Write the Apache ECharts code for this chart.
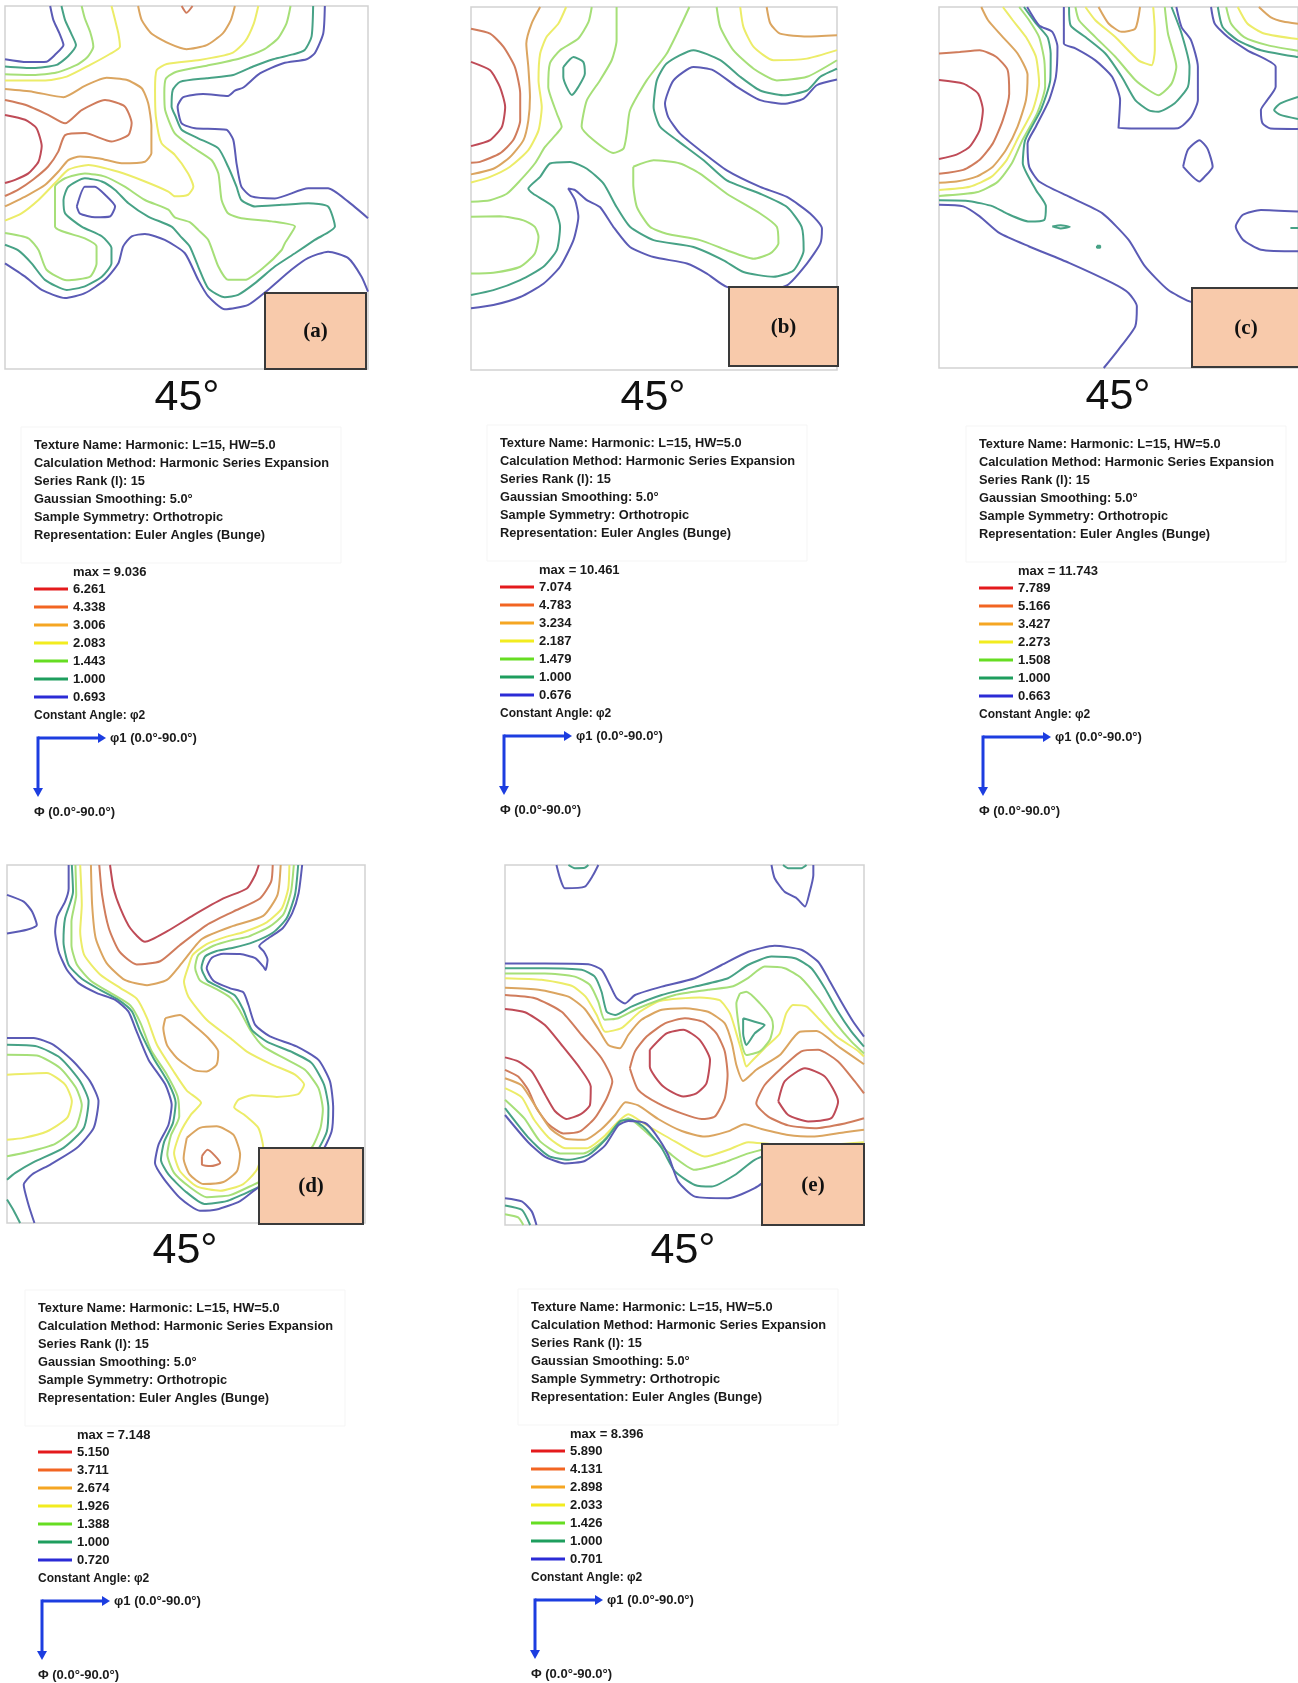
<!DOCTYPE html>
<html>
<head>
<meta charset="utf-8">
<style>
  html, body { margin: 0; padding: 0; background: #ffffff; }
  #chart { width: 1298px; height: 1683px; }
</style>
<script src="https://cdn.jsdelivr.net/npm/echarts@6/dist/echarts.min.js"></script>
</head>
<body>
<div id="chart"></div>
<script>
// ---- contour levels of the ODF sections (phi2 = 45°) ----
const levelsA = [6.261, 4.338, 3.006, 2.083, 1.443, 1.000, 0.693];
const levelsB = [7.074, 4.783, 3.234, 2.187, 1.479, 1.000, 0.676];
const levelsC = [7.789, 5.166, 3.427, 2.273, 1.508, 1.000, 0.663];
const levelsD = [5.150, 3.711, 2.674, 1.926, 1.388, 1.000, 0.720];
const levelsE = [5.890, 4.131, 2.898, 2.033, 1.426, 1.000, 0.701];
const maxValues = [9.036, 10.461, 11.743, 7.148, 8.396];
const panelLabels = ['(a)', '(b)', '(c)', '(d)', '(e)'];
const sectionAngle = '45°';
const infoLines = [
  'Texture Name: Harmonic: L=15, HW=5.0',
  'Calculation Method: Harmonic Series Expansion',
  'Series Rank (l): 15',
  'Gaussian Smoothing: 5.0°',
  'Sample Symmetry: Orthotropic',
  'Representation: Euler Angles (Bunge)'
];
const constantAngleText = 'Constant Angle: φ2';
const phi1Text = 'φ1 (0.0°-90.0°)';
const bigPhiText = 'Φ (0.0°-90.0°)';

// ---- iso-lines, points are [φ1, Φ] in degrees ----
// section (a)
const aRed = [[0,27.0],[5.0,28.2],[7.8,30.3],[9.1,34.8],[8.3,38.6],[5.8,41.5],[2.5,43.1],[0,43.9]];
const aOrange1 = [[0,23.3],[5.0,24.5],[10.7,27.0],[14.9,29.1],[19.0,25.8],[24.8,23.3],[29.7,24.9],[31.4,29.1],[30.6,32.0],[26.4,33.6],[19.8,31.5],[14.9,32.0],[13.2,36.1],[10.7,39.8],[7.0,43.0],[3.3,45.5],[0,47.1]];
const aOrange2 = [[43.8,0],[45.0,1.7],[46.5,0]];
const aTan1 = [[33.0,0],[33.9,3.5],[36.3,6.8],[40.9,9.4],[45.0,10.7],[50.0,9.7],[54.0,6.8],[56.0,3.5],[57.0,0]];
const aTan2 = [[0,20.6],[7.0,21.3],[14.5,22.6],[19.8,19.8],[25.2,17.8],[30.1,18.3],[33.9,20.4],[35.5,24.1],[36.3,29.9],[36.3,36.5],[34.7,38.6],[28.9,39.0],[23.5,37.8],[18.6,37.3],[15.7,38.2],[13.2,41.1],[9.9,44.4],[5.8,46.8],[0,49.7]];
const aYellow1 = [[26.4,0],[27.3,3.5],[28.1,6.8],[28.5,10.1],[26.0,11.9],[21.1,14.6],[15.3,17.5],[9.5,18.5],[0,18.5]];
const aYellow2 = [[62.8,0],[61.7,4.3],[59.5,8.8],[56.2,11.7],[48.3,13.4],[40.1,14.4],[37.6,15.9],[37.2,20.8],[37.4,27.4],[38.8,34.0],[42.1,36.9],[45.4,41.5],[46.7,44.8],[45.4,46.8],[42.1,47.2],[40.5,46.0],[34.7,43.5],[28.1,41.1],[20.7,39.4],[15.7,40.6],[12.4,43.9],[8.3,48.1],[4.1,51.4],[0,53.2]];
const aGreen1 = [[19.0,0],[19.8,3.1],[21.1,6.4],[21.9,10.1],[20.4,12.7],[17.8,14.6],[12.8,16.5],[7.0,17.1],[0,16.9]];
const aGreen2 = [[70.8,0],[69.8,4.3],[67.7,8.0],[64.0,10.9],[58.2,13.0],[50.0,14.8],[42.5,16.3],[39.9,18.0],[39.5,21.6],[39.7,25.8],[42.1,31.6],[46.3,34.9],[51.2,38.2],[52.9,41.5],[53.7,48.1],[55.3,51.4],[58.6,52.6],[66.1,53.4],[71.9,54.7],[69.4,58.8],[68.6,60.5],[64.4,64.6],[59.5,67.9],[55.3,67.9],[52.9,64.6],[50.4,58.0],[47.9,55.5],[45.8,53.6],[42.1,52.4],[40.5,50.5],[34.7,48.1],[29.7,44.8],[24.8,42.3],[19.8,41.5],[14.9,42.7],[12.4,44.8],[12.4,54.7],[19.8,57.6],[22.7,59.6],[22.7,63.8],[21.1,67.1],[15.3,68.0],[10.3,65.4],[8.3,60.5],[5.8,57.6],[0,56.3]];
const aTeal1 = [[14.0,0],[14.9,3.5],[16.4,6.8],[17.6,9.7],[15.7,12.4],[12.8,14.6],[7.0,15.4],[0,15.0]];
const aTeal2 = [[76.4,0],[76.0,7.6],[74.3,10.9],[71.4,12.0],[66.5,13.2],[61.5,15.0],[56.6,17.1],[50.0,17.9],[43.4,18.8],[41.6,20.8],[41.3,24.9],[42.3,27.4],[43.8,30.7],[47.9,32.8],[52.9,35.3],[55.3,39.8],[57.4,44.8],[58.6,48.1],[62.0,49.7],[68.6,49.3],[75.2,48.9],[80.1,49.7],[81.8,54.7],[76.8,58.0],[71.9,61.3],[66.9,64.6],[62.0,68.7],[57.8,71.6],[54.5,72.2],[50.4,70.0],[47.9,64.6],[45.8,59.6],[43.4,57.0],[41.3,54.7],[35.5,52.2],[30.6,48.9],[27.3,45.6],[24.0,43.5],[19.8,42.7],[15.7,44.8],[14.5,48.1],[14.9,51.4],[19.0,54.7],[24.0,57.1],[26.4,60.0],[26.4,63.8],[24.0,67.1],[19.8,69.5],[15.3,70.4],[9.9,67.9],[6.6,63.8],[3.3,60.6],[0,59.2]];
const aBlue1 = [[11.2,0],[12.0,3.5],[13.5,6.8],[14.5,9.7],[12.4,12.1],[10.3,13.8],[5.4,13.9],[0,13.2]];
const aBlue2 = [[79.3,0],[78.9,6.8],[76.8,11.7],[74.8,13.2],[69.0,14.2],[63.2,16.7],[59.1,20.2],[57.0,21.0],[55.3,22.3],[49.1,21.8],[44.2,22.6],[42.8,24.9],[43.8,29.1],[47.1,30.3],[54.9,30.7],[56.6,33.2],[57.4,39.0],[58.6,44.8],[61.1,47.2],[66.9,47.7],[75.2,45.2],[80.1,45.2],[85.1,48.5],[90,52.6]];
const aBlue3 = [[17.8,49.7],[19.8,44.8],[22.3,44.8],[24.8,46.8],[27.3,49.7],[26.0,52.2],[22.3,52.4],[18.6,51.5],[17.8,49.7]];
const aBlue4 = [[0,63.8],[5.0,67.1],[9.1,70.4],[14.9,72.4],[19.8,71.2],[24.8,67.9],[28.1,63.8],[29.3,59.6],[31.4,57.1],[34.7,56.5],[39.6,58.0],[44.6,61.3],[47.9,67.9],[50.4,72.0],[54.5,75.2],[60.3,74.1],[65.2,70.4],[71.0,65.4],[75.1,62.5],[80.1,60.9],[85.1,62.5],[88.4,67.1],[90,70.8]];

// section (b)
const bRed = [[0,13.6],[4.7,15.7],[7.1,19.8],[8.4,24.8],[7.6,29.7],[4.7,33.0],[0,34.5]];
const bOrange = [[0,5.4],[4.7,6.6],[8.0,9.9],[10.8,14.9],[12.1,21.5],[12.1,28.1],[10.4,33.0],[7.1,36.3],[2.2,38.4],[0,38.6]];
const bTan1 = [[17.0,0],[14.9,4.1],[13.6,9.1],[14.1,14.9],[14.5,22.3],[14.1,28.1],[12.9,33.0],[9.6,37.2],[5.5,40.1],[0,41.5]];
const bTan2 = [[72.7,0],[73.6,4.1],[76.0,6.6],[82.6,7.3],[90,7.0]];
const bYellow1 = [[23.4,0],[21.5,4.1],[18.6,7.4],[17.0,11.6],[16.6,18.2],[17.4,24.8],[16.6,30.6],[14.1,35.5],[9.6,39.6],[4.7,42.1],[0,43.5]];
const bYellow2 = [[66.2,0],[67.0,5.0],[69.5,9.9],[74.4,13.2],[82.6,12.8],[90,10.7]];
const bGreen1 = [[29.7,0],[28.9,3.7],[26.4,7.8],[21.9,10.7],[19.4,14.0],[19.0,19.8],[21.1,26.4],[22.3,29.7],[21.1,31.4],[18.2,34.7],[15.7,38.8],[12.1,43.0],[8.8,46.3],[4.7,47.9],[0,48.3]];
const bGreen2 = [[35.8,0],[35.8,8.3],[34.6,13.2],[31.7,18.2],[28.5,23.1],[27.2,29.7],[30.1,33.0],[35.0,36.2],[37.5,35.1],[38.3,31.4],[39.1,25.6],[43.2,18.2],[48.1,11.6],[51.4,5.0],[53.7,0]];
const bGreen3 = [[60.4,0],[61.3,5.0],[64.5,10.7],[69.5,15.3],[75.2,18.2],[82.6,17.3],[90,13.2]];
const bGreen4 = [[0,52.0],[7.1,51.9],[12.9,52.9],[15.7,54.5],[16.6,57.0],[15.7,61.1],[12.1,64.4],[5.5,65.9],[0,66.1]];
const bGreen5 = [[39.9,39.6],[44.9,38.0],[51.4,38.8],[56.3,41.3],[62.9,46.3],[71.1,51.2],[75.2,54.5],[75.6,58.6],[73.6,61.1],[69.5,62.4],[62.9,60.3],[56.3,57.8],[48.1,56.2],[44.0,54.5],[40.8,49.6],[39.9,43.8],[39.9,39.6]];
const bTeal1 = [[22.7,14.9],[25.2,12.4],[27.6,13.6],[28.0,16.5],[26.4,19.8],[24.8,21.8],[23.5,19.8],[22.7,17.3],[22.7,14.9]];
const bTeal2 = [[0,71.4],[5.5,70.2],[12.1,67.7],[17.8,64.4],[21.1,60.3],[21.9,54.5],[20.3,49.6],[15.3,46.3],[14.1,45.0],[17.0,42.1],[19.4,38.8],[24.4,38.4],[28.5,40.1],[32.6,43.8],[35.8,49.6],[39.1,54.5],[44.9,57.8],[54.7,59.5],[62.1,62.8],[67.0,65.7],[74.4,66.9],[79.3,65.3],[81.8,60.3],[81.3,54.5],[77.7,49.6],[71.1,46.3],[62.9,43.0],[57.2,38.0],[50.6,33.0],[46.5,29.7],[44.9,24.8],[45.7,18.2],[48.1,14.0],[54.7,10.7],[61.3,13.2],[66.2,17.3],[71.1,20.7],[76.8,21.9],[82.6,20.7],[85.9,17.3],[90,15.3]];
const bBlue = [[0,74.7],[5.5,73.9],[12.1,71.9],[17.8,68.6],[21.9,64.4],[25.2,57.8],[26.4,52.0],[25.6,47.9],[23.9,45.0],[25.6,45.4],[28.5,47.9],[31.7,49.6],[35.0,54.5],[39.1,59.5],[44.9,62.0],[53.1,63.6],[58.0,66.1],[62.9,69.4],[71.1,70.2],[77.7,69.0],[82.6,63.6],[85.9,58.6],[86.3,54.9],[83.4,51.2],[77.7,47.1],[71.1,44.6],[62.9,40.5],[56.3,35.5],[51.4,31.4],[48.5,27.3],[47.7,24.0],[49.8,18.2],[54.7,14.9],[59.6,15.7],[65.4,19.8],[71.1,23.1],[76.8,24.0],[81.8,22.7],[85.0,19.4],[90,18.0]];

// section (c)
const cRed = [[0,18.2],[6.1,19.1],[9.8,21.6],[11.0,25.7],[10.2,30.7],[7.7,34.8],[4.4,36.8],[0,37.9]];
const cOrange = [[0,11.6],[5.2,11.2],[10.2,10.8],[14.3,12.4],[17.2,15.7],[17.6,21.6],[16.0,28.2],[13.5,34.0],[10.2,38.1],[6.1,40.6],[0,41.6]];
const cTan1 = [[10.6,0],[12.3,3.3],[16.0,7.5],[19.7,11.6],[22.2,16.9],[21.8,23.2],[19.7,29.8],[16.8,35.6],[13.5,39.8],[9.4,42.3],[4.4,43.5],[0,43.8]];
const cTan2 = [[40.0,0],[42.5,4.1],[45.8,6.2],[49.2,5.4],[50.4,0]];
const cTan3 = [[80.2,0],[83.1,2.5],[86.5,3.7],[90,4.2]];
const cYellow1 = [[16.0,0],[18.5,3.3],[21.8,7.5],[24.3,12.4],[25.1,19.1],[23.5,25.7],[20.0,32.3],[17.0,38.1],[13.2,42.3],[7.7,44.8],[0,45.6]];
const cYellow2 = [[36.7,0],[39.2,3.3],[44.2,7.5],[50.0,13.3],[53.3,14.5],[54.1,10.8],[54.1,5.8],[53.7,0]];
const cYellow3 = [[74.9,0],[77.3,4.1],[81.5,6.6],[90,8.0]];
const cGreen1 = [[20.1,0],[22.6,3.3],[25.1,7.5],[26.4,13.3],[26.6,19.9],[24.6,26.5],[20.9,33.2],[18.3,38.9],[14.7,43.6],[9.4,46.2],[0,47.1]];
const cGreen2 = [[34.2,0],[35.1,3.3],[39.2,7.5],[44.2,12.4],[49.2,18.2],[52.5,20.7],[55.0,22.0],[58.3,19.1],[59.5,14.9],[57.4,6.6],[56.6,0]];
const cGreen3 = [[72.0,0],[73.2,4.1],[76.5,7.5],[82.3,9.5],[90,10.9]];
const cTeal1 = [[21.3,0],[24.3,4.1],[27.2,7.5],[28.0,11.6],[27.9,18.2],[25.6,25.5],[21.6,33.2],[21.0,38.9],[24.3,45.6],[26.8,49.7],[26.4,53.1],[22.6,53.5],[16.8,51.4],[13.5,49.7],[7.7,48.4],[0,48.2]];
const cTeal2 = [[32.6,0],[33.0,4.6],[36.7,7.5],[41.7,11.6],[45.8,17.4],[49.2,23.2],[52.5,25.7],[55.0,26.1],[59.1,24.0],[62.4,19.9],[62.8,14.9],[60.8,6.6],[58.3,0]];
const cTeal3 = [[69.9,0],[71.1,5.0],[74.9,8.3],[80.7,10.8],[90,12.5]];
const cTeal4 = [[90,22.4],[85.6,24.0],[84.0,25.7],[85.6,26.9],[90,27.9]];
const cTeal5 = [[28.4,54.7],[30.5,54.4],[32.8,54.8],[30.5,55.2],[28.4,54.7]];
const cTeal6 = [[39.6,59.5],[40.4,59.5],[40.4,60.0],[39.6,60.0],[39.6,59.5]];
const cTeal7 = [[88.1,55.1],[90,55.1]];
const cBlue1 = [[22.1,0],[25.1,4.6],[28.4,6.2],[29.7,9.9],[29.3,17.4],[27.6,23.2],[24.3,29.8],[22.2,34.0],[22.6,39.8],[25.1,43.5],[32.6,47.3],[40.9,51.4],[47.5,58.0],[51.6,64.6],[57.4,70.5],[62.8,73.4],[66.0,74.0]];
const cBlue2 = [[0,49.3],[6.1,49.7],[10.2,52.2],[15.2,56.4],[22.6,59.7],[32.6,63.8],[43.4,68.8],[47.5,71.3],[49.6,74.6],[49.2,79.6],[45.0,85.4],[41.3,90]];
const cBlue3 = [[31.3,0],[31.3,9.1],[34.2,10.3],[39.2,13.3],[43.4,17.4],[45.4,23.2],[45.0,30.2],[52.5,30.3],[59.9,30.2],[63.2,27.4],[64.9,23.2],[64.9,14.9],[63.2,8.3],[60.8,5.0],[59.5,0]];
const cBlue4 = [[68.2,0],[69.1,4.1],[72.4,7.5],[77.3,10.8],[84.4,14.9],[84.4,19.9],[82.3,23.2],[80.7,25.7],[81.1,29.0],[83.1,30.3],[90,30.4]];
const cBlue5 = [[61.2,39.8],[62.4,35.6],[65.3,33.2],[67.3,35.3],[68.6,39.8],[66.6,42.3],[65.3,43.5],[61.2,39.8]];
const cBlue6 = [[90,51.0],[80.7,50.6],[76.2,51.8],[74.4,54.7],[76.2,58.0],[80.7,60.5],[90,60.9]];

// section (d)
const dRed = [[25.9,0],[26.8,5.9],[28.5,10.9],[31.0,15.9],[34.7,19.3],[40.2,16.7],[46.9,12.6],[54.4,8.4],[60.3,5.9],[62.4,2.5],[63.3,0]];
const dOrange1 = [[23.2,0],[23.9,7.5],[25.6,15.9],[28.3,21.8],[32.6,25.0],[38.5,24.2],[43.5,20.1],[50.2,15.1],[56.9,11.7],[63.6,8.4],[66.4,4.2],[66.8,0]];
const dOrange2 = [[49.0,73.2],[50.4,71.6],[53.6,74.9],[51.2,75.7],[49.0,75.3],[49.0,73.2]];
const dTan1 = [[21.1,0],[21.4,10.0],[22.3,18.4],[25.0,24.6],[29.6,28.9],[35.2,30.2],[40.2,28.9],[44.0,24.6],[49.0,18.6],[56.9,15.3],[64.4,12.8],[68.0,7.5],[68.8,0]];
const dTan2 = [[39.8,38.5],[43.5,37.7],[46.9,40.2],[50.6,43.5],[53.1,46.9],[52.7,50.2],[50.2,51.9],[46.9,51.5],[42.7,48.5],[40.2,45.2],[39.3,41.0],[39.8,38.5]];
const dTan3 = [[45.2,68.6],[48.5,66.1],[52.7,65.7],[56.9,67.8],[58.6,72.8],[57.8,77.0],[54.4,79.7],[49.4,80.2],[45.9,77.8],[44.4,73.7],[45.2,68.6]];
const dYellow1 = [[18.4,0],[18.8,10.0],[18.4,16.7],[19.4,22.6],[23.4,27.5],[28.6,31.0],[32.6,33.6],[35.2,38.5],[37.7,45.2],[41.9,51.9],[45.2,56.7],[48.8,59.8],[46.2,62.8],[43.5,67.4],[42.0,72.4],[43.5,77.0],[47.7,80.8],[53.6,81.9],[59.4,80.2],[62.8,76.6],[64.4,71.1],[63.2,66.1],[59.8,62.9],[57.1,60.9],[58.2,59.0],[61.5,57.9],[67.8,58.3],[73.2,57.6],[74.7,55.2],[72.4,52.7],[66.5,50.1],[60.3,46.9],[56.1,43.5],[50.2,38.9],[45.6,33.1],[44.5,29.3],[45.6,25.5],[46.7,22.6],[50.2,19.9],[55.2,18.0],[59.4,16.9],[65.3,14.4],[69.1,10.9],[70.7,5.9],[71.0,0]];
const dYellow2 = [[0,52.7],[10.0,52.3],[14.6,55.2],[16.3,59.4],[15.1,63.6],[10.0,67.0],[4.2,68.6],[0,69.1]];
const dGreen1 = [[17.2,0],[17.4,7.5],[16.2,14.2],[16.2,20.1],[17.6,25.1],[21.3,29.3],[26.8,32.6],[31.0,35.3],[33.6,39.8],[36.2,46.5],[40.2,52.7],[42.9,58.2],[43.3,63.2],[41.2,68.0],[40.3,72.8],[42.0,77.4],[46.0,81.0],[50.2,83.5],[56.1,83.0],[61.9,80.4],[65.3,78.7],[71.1,75.0],[76.6,71.0],[78.8,66.1],[79.4,61.5],[78.3,56.1],[74.9,51.5],[69.9,48.7],[64.4,45.6],[61.1,41.4],[58.4,36.4],[56.1,33.3],[51.9,30.8],[48.5,29.0],[47.3,25.8],[48.1,22.6],[51.9,20.3],[56.9,18.8],[60.7,18.0],[66.0,15.5],[69.5,12.4],[71.4,6.7],[72.1,0]];
const dGreen2 = [[0,47.7],[7.5,47.9],[13.4,51.1],[17.4,56.1],[18.8,60.4],[17.2,66.1],[12.1,70.1],[5.0,72.2],[0,73.2]];
const dTeal1 = [[16.3,0],[16.6,6.7],[14.6,13.4],[14.2,19.3],[15.5,25.1],[18.8,28.6],[23.4,31.4],[28.0,33.9],[31.4,36.8],[33.5,41.9],[36.8,48.5],[40.6,54.8],[42.4,59.8],[41.7,64.9],[39.5,69.6],[38.7,74.1],[40.6,77.8],[44.8,82.0],[49.6,85.2],[55.2,84.5],[61.1,82.0],[65.3,79.9],[72.0,76.2],[77.8,72.0],[80.4,67.0],[80.8,61.1],[79.7,55.2],[76.6,49.8],[71.6,47.0],[65.3,44.4],[61.5,41.4],[59.4,36.4],[57.3,32.8],[53.6,30.8],[50.4,29.1],[48.9,25.8],[49.8,23.0],[52.7,21.6],[56.9,20.8],[61.9,19.4],[67.0,16.9],[70.3,13.4],[72.4,7.5],[73.2,0]];
const dTeal2 = [[0,45.2],[7.5,45.6],[13.4,48.5],[18.4,54.4],[20.5,59.4],[19.3,66.1],[14.2,71.1],[6.7,74.7],[2.1,77.4],[0,79.1]];
const dTeal3 = [[0,84.1],[1.7,86.9],[3.3,90]];
const dBlue1 = [[0,7.5],[4.2,9.2],[6.3,11.7],[7.5,15.1],[5.0,16.3],[0,17.2]];
const dBlue2 = [[15.5,0],[15.5,5.9],[14.6,9.2],[12.6,13.0],[12.1,16.7],[13.0,21.8],[15.1,26.4],[18.0,29.7],[22.6,32.2],[27.2,33.9],[30.5,36.8],[32.6,41.9],[35.6,49.0],[39.8,55.2],[41.4,60.3],[40.6,65.3],[38.1,70.3],[37.2,74.9],[39.3,78.7],[43.5,83.7],[48.5,86.9],[52.7,86.6],[58.6,84.5],[63.6,80.8],[72.0,77.4],[78.7,72.8],[81.6,67.0],[82.0,61.1],[81.2,54.4],[78.3,49.0],[72.8,45.6],[66.1,43.1],[62.4,40.2],[60.7,35.2],[59.4,32.0],[56.1,31.0],[51.9,29.1],[50.2,25.9],[51.5,23.3],[54.4,22.3],[58.6,22.4],[62.4,23.4],[64.4,25.5],[65.0,26.4],[65.5,23.9],[64.6,21.8],[63.4,20.4],[65.7,18.4],[69.3,15.9],[71.7,12.1],[73.3,7.1],[74.2,0]];
const dBlue3 = [[0,43.5],[6.7,43.5],[11.7,45.2],[16.7,49.4],[20.9,54.4],[23.0,59.4],[21.8,66.1],[17.6,71.1],[10.9,75.3],[6.3,77.8],[4.2,80.4],[5.4,85.4],[6.9,90]];

// section (e)
const eRed1 = [[0,36.0],[5.0,36.8],[10.0,40.0],[14.2,45.0],[18.8,50.8],[21.5,55.4],[21.3,60.0],[19.0,62.3],[15.4,63.5],[12.5,61.5],[10.0,57.3],[6.7,51.6],[3.3,49.1],[0,48.1]];
const eRed2 = [[36.3,46.2],[40.5,42.1],[44.7,41.2],[48.8,43.7],[51.4,48.7],[50.5,54.6],[48.0,57.1],[44.7,57.9],[39.7,55.4],[36.3,50.4],[36.3,46.2]];
const eRed3 = [[68.5,59.1],[70.1,54.1],[75.2,50.8],[80.2,52.9],[83.5,59.1],[81.8,63.3],[76.0,64.1],[71.0,62.5],[68.5,59.1]];
const eOrange1 = [[0,32.5],[7.5,33.3],[14.2,36.7],[19.2,42.5],[24.2,48.3],[26.9,54.1],[25.5,58.3],[22.5,63.3],[18.8,66.6],[14.6,67.1],[10.9,64.8],[7.9,60.8],[5.8,56.2],[3.3,52.9],[0,51.2]];
const eOrange2 = [[31.3,50.8],[32.6,46.6],[35.5,42.9],[40.1,39.6],[45.1,38.3],[49.7,39.2],[53.0,42.1],[55.1,46.6],[55.8,52.5],[55.1,58.3],[52.6,62.9],[49.3,63.5],[44.3,62.1],[38.4,59.6],[33.4,56.2],[31.3,50.8]];
const eOrange3 = [[90,57.1],[87.7,54.1],[83.5,49.1],[78.5,46.2],[74.3,46.6],[69.3,50.8],[65.1,55.0],[63.0,59.6],[66.0,62.9],[71.0,65.1],[77.7,65.8],[85.2,64.6],[90,63.3]];
const eTan1 = [[0,30.7],[8.4,31.2],[15.9,32.9],[20.0,36.0],[23.4,41.0],[25.9,45.0],[28.8,45.8],[30.9,42.5],[34.2,38.7],[39.3,36.2],[45.1,35.8],[50.9,36.7],[55.1,39.6],[56.9,44.6],[58.0,50.0],[59.7,54.0],[63.0,51.2],[68.9,47.5],[73.9,41.7],[78.1,41.5],[83.9,45.6],[90,49.8]];
const eTan2 = [[0,53.3],[4.2,55.1],[7.5,60.1],[11.3,65.8],[15.4,68.5],[20.0,68.7],[24.2,66.0],[27.6,62.5],[30.2,59.3],[33.4,60.1],[38.4,63.5],[44.3,66.5],[50.1,67.9],[55.9,66.6],[60.1,64.8],[64.3,66.0],[71.0,67.5],[77.6,67.9],[85.2,66.8],[90,66.2]];
const eYellow1 = [[0,28.3],[9.2,28.7],[16.7,30.2],[20.2,32.9],[23.0,37.5],[25.1,41.7],[29.2,40.8],[33.8,36.7],[38.8,34.0],[48.8,33.1],[53.8,33.8],[56.4,37.1],[58.0,42.1],[59.7,47.9],[60.5,50.4],[62.2,48.7],[65.5,45.4],[68.9,42.1],[70.5,37.1],[72.2,35.0],[75.6,35.4],[78.9,38.7],[83.1,42.9],[88.1,46.2],[90,47.9]];
const eYellow2 = [[0,55.8],[4.2,58.1],[7.3,63.7],[10.9,68.1],[15.2,70.8],[20.5,70.8],[25.1,67.6],[28.4,64.1],[30.9,62.3],[35.1,64.8],[42.6,69.1],[50.1,72.9],[55.9,71.2],[61.0,69.3],[66.8,69.8],[76.8,70.1],[90,69.3]];
const eGreen1 = [[0,27.1],[10.0,27.1],[17.5,27.9],[21.3,30.0],[23.4,34.2],[25.0,38.7],[28.4,38.3],[33.4,35.8],[42.6,32.5],[50.9,31.2],[57.2,30.3],[60.9,28.3],[65.1,25.4],[70.1,25.8],[74.3,28.3],[78.5,33.3],[82.7,39.2],[86.8,44.1],[90,47.1]];
const eGreen2 = [[0,58.7],[4.8,63.3],[8.8,69.1],[13.8,72.1],[19.6,72.1],[24.6,69.0],[28.2,64.8],[30.9,63.3],[35.1,66.5],[41.3,72.1],[47.6,76.2],[55.1,74.3],[61.0,72.1],[66.8,70.8],[90,70.0]];
const eGreen3 = [[58.9,32.1],[60.5,31.7],[63.9,34.6],[66.8,38.3],[67.2,40.4],[66.4,43.7],[63.9,46.6],[60.5,47.5],[59.3,44.6],[58.5,39.6],[58.0,34.6],[58.9,32.1]];
const eGreen4 = [[0,87.3],[3.3,88.1],[4.6,90]];
const eTeal1 = [[0,25.8],[10.0,25.8],[19.2,26.2],[22.5,27.9],[24.2,31.7],[25.5,36.7],[27.6,37.5],[31.7,35.4],[39.3,32.5],[47.6,30.4],[55.9,28.3],[60.9,25.0],[66.8,22.9],[72.7,23.3],[76.8,25.8],[80.2,30.8],[83.5,36.7],[86.8,41.6],[90,45.4]];
const eTeal2 = [[0,60.8],[5.8,68.1],[10.9,72.7],[15.9,73.7],[20.9,72.5],[25.5,68.3],[28.8,64.1],[31.7,63.7],[35.1,65.8],[39.3,70.8],[42.6,76.6],[47.6,80.0],[51.8,80.4],[57.6,77.5],[62.6,73.7],[68.5,71.6],[90,70.8]];
const eTeal3 = [[59.7,38.3],[62.6,39.2],[65.1,40.0],[62.6,42.1],[60.5,45.0],[59.7,42.1],[59.7,38.3]];
const eTeal4 = [[0,85.1],[4.2,86.2],[6.3,90]];
const eTeal5 = [[15.9,0],[17.5,0.8],[20.0,0.7],[20.9,0]];
const eTeal6 = [[69.7,0],[71.0,0.8],[74.3,0.8],[75.6,0]];
const eBlue1 = [[0,24.6],[10.0,24.6],[20.9,24.8],[24.2,26.2],[26.3,30.0],[28.0,33.3],[30.1,34.6],[32.6,32.5],[39.3,30.4],[47.6,28.3],[54.3,25.0],[61.0,21.7],[67.6,20.2],[74.3,21.2],[78.5,24.2],[81.0,28.3],[84.3,34.2],[87.3,39.2],[90,42.9]];
const eBlue2 = [[0,62.5],[5.8,69.3],[10.0,72.9],[15.0,74.6],[20.0,74.0],[25.1,70.1],[28.4,65.1],[30.9,64.0],[35.1,64.5],[37.6,67.1],[40.9,72.5],[43.4,79.1],[47.6,82.9],[55.9,83.3],[62.6,80.8],[68.5,76.6]];
const eBlue3 = [[0,83.3],[4.2,84.1],[6.7,86.6],[7.9,90]];
const eBlue4 = [[12.9,0],[13.8,3.3],[15.0,5.8],[20.0,5.4],[22.1,2.5],[23.4,0]];
const eBlue5 = [[66.8,0],[67.6,3.3],[70.1,6.7],[73.1,8.3],[75.2,10.4],[76.4,6.7],[77.3,2.5],[77.3,0]];

// [level index, path]; level 0 = highest (red) ... 6 = lowest (blue)
const linesA = [[0,aRed],[1,aOrange1],[1,aOrange2],[2,aTan1],[2,aTan2],[3,aYellow1],[3,aYellow2],[4,aGreen1],[4,aGreen2],[5,aTeal1],[5,aTeal2],[6,aBlue1],[6,aBlue2],[6,aBlue3],[6,aBlue4]];
const linesB = [[0,bRed],[1,bOrange],[2,bTan1],[2,bTan2],[3,bYellow1],[3,bYellow2],[4,bGreen1],[4,bGreen2],[4,bGreen3],[4,bGreen4],[4,bGreen5],[5,bTeal1],[5,bTeal2],[6,bBlue]];
const linesC = [[0,cRed],[1,cOrange],[2,cTan1],[2,cTan2],[2,cTan3],[3,cYellow1],[3,cYellow2],[3,cYellow3],[4,cGreen1],[4,cGreen2],[4,cGreen3],[5,cTeal1],[5,cTeal2],[5,cTeal3],[5,cTeal4],[5,cTeal5],[5,cTeal6],[5,cTeal7],[6,cBlue1],[6,cBlue2],[6,cBlue3],[6,cBlue4],[6,cBlue5],[6,cBlue6]];
const linesD = [[0,dRed],[1,dOrange1],[1,dOrange2],[2,dTan1],[2,dTan2],[2,dTan3],[3,dYellow1],[3,dYellow2],[4,dGreen1],[4,dGreen2],[5,dTeal1],[5,dTeal2],[5,dTeal3],[6,dBlue1],[6,dBlue2],[6,dBlue3]];
const linesE = [[0,eRed1],[0,eRed2],[0,eRed3],[1,eOrange1],[1,eOrange2],[1,eOrange3],[2,eTan1],[2,eTan2],[3,eYellow1],[3,eYellow2],[4,eGreen1],[4,eGreen2],[4,eGreen3],[4,eGreen4],[5,eTeal1],[5,eTeal2],[5,eTeal3],[5,eTeal4],[5,eTeal5],[5,eTeal6],[6,eBlue1],[6,eBlue2],[6,eBlue3],[6,eBlue4],[6,eBlue5]];

// ---- styling / layout ----
const plotColors = ['#bf4b57', '#d07c5c', '#dba560', '#ecec68', '#a6df78', '#47a286', '#5b5bb5'];
const legendColors = ['#e41a1c', '#f26522', '#f5a623', '#f2ec1f', '#66dd22', '#1e9e5e', '#2b2bd6'];
const arrowColor = '#1c3de0';
const sans = '"Liberation Sans", Arial, Helvetica, sans-serif';
const serif = '"Liberation Serif", "Times New Roman", serif';

const panels = [
  { grid: [5, 6, 363, 363],    tag: [265, 293, 101, 76],  title: [187, 398],  text: [34, 445],  lines: linesA, levels: levelsA },
  { grid: [471, 7, 366, 363],  tag: [729, 287, 109, 79],  title: [653, 398],  text: [500, 443], lines: linesB, levels: levelsB },
  { grid: [939, 7, 362, 361],  tag: [1192, 288, 108, 79], title: [1118, 397], text: [979, 444], lines: linesC, levels: levelsC },
  { grid: [7, 865, 358, 358],  tag: [259, 1148, 104, 76], title: [185, 1251], text: [38, 1308], lines: linesD, levels: levelsD },
  { grid: [505, 865, 359, 360],tag: [762, 1144, 102, 81], title: [683, 1251], text: [531, 1307],lines: linesE, levels: levelsE }
];

const grids = [], xAxes = [], yAxes = [], series = [], graphics = [];
const infoFont = 'bold 12.8px ' + sans;
const legendFont = 'bold 13px ' + sans;
const smallFont = 'bold 12px ' + sans;
const arrowFont = 'bold 13px ' + sans;

function txt(x, y, text, font, fill, align, z) {
  return {
    type: 'text', x: x, y: y, z: z || 50, silent: true,
    style: { text: text, font: font, fill: fill || '#1a1a1a',
             align: align || 'left', textAlign: align || 'left',
             verticalAlign: 'middle', textVerticalAlign: 'middle' }
  };
}

panels.forEach(function (p, i) {
  grids.push({
    left: p.grid[0], top: p.grid[1], width: p.grid[2], height: p.grid[3],
    show: true, borderColor: '#d2d2d2', borderWidth: 1.5, backgroundColor: '#ffffff'
  });
  xAxes.push({ type: 'value', gridIndex: i, min: 0, max: 90, show: false });
  yAxes.push({ type: 'value', gridIndex: i, min: 0, max: 90, inverse: true, show: false });

  p.lines.forEach(function (ln) {
    series.push({
      type: 'line', xAxisIndex: i, yAxisIndex: i,
      data: ln[1], showSymbol: false, symbol: 'none', smooth: 0.2,
      clip: true, silent: true, z: 2,
      lineStyle: { color: plotColors[ln[0]], width: 2 }
    });
  });

  // panel tag box
  graphics.push({
    type: 'rect', z: 100, silent: true,
    shape: { x: p.tag[0], y: p.tag[1], width: p.tag[2], height: p.tag[3] },
    style: { fill: '#f8caab', stroke: '#3a3a3a', lineWidth: 2 }
  });
  graphics.push(txt(p.tag[0] + p.tag[2] / 2, p.tag[1] + p.tag[3] / 2 + 1, panelLabels[i],
                    'bold 21px ' + serif, '#111111', 'center', 101));

  // section angle
  graphics.push(txt(p.title[0], p.title[1], sectionAngle, '43px ' + sans, '#111111', 'center'));

  // info block
  const tx = p.text[0], ty = p.text[1];
  graphics.push({
    type: 'rect', z: 1, silent: true,
    shape: { x: tx - 13, y: ty - 18, width: 320, height: 136 },
    style: { fill: 'none', stroke: '#f5f5f5', lineWidth: 1 }
  });
  infoLines.forEach(function (s, k) {
    graphics.push(txt(tx, ty + 18 * k, s, infoFont, '#1a1a1a'));
  });
  graphics.push(txt(tx + 39, ty + 127, 'max = ' + maxValues[i].toFixed(3), legendFont, '#1a1a1a'));
  p.levels.forEach(function (v, k) {
    const yy = ty + 144 + 18 * k;
    graphics.push({
      type: 'line', z: 50, silent: true,
      shape: { x1: tx, y1: yy, x2: tx + 34, y2: yy },
      style: { stroke: legendColors[k], lineWidth: 3 }
    });
    graphics.push(txt(tx + 39, yy, v.toFixed(3), legendFont, '#1a1a1a'));
  });
  graphics.push(txt(tx, ty + 271, constantAngleText, smallFont, '#1a1a1a'));

  // axis direction arrows
  const ax = tx + 4, ay = ty + 293;
  graphics.push({ type: 'line', z: 50, silent: true, shape: { x1: ax, y1: ay, x2: ax + 62, y2: ay },
                  style: { stroke: arrowColor, lineWidth: 3 } });
  graphics.push({ type: 'polygon', z: 50, silent: true,
                  shape: { points: [[ax + 60, ay - 5], [ax + 68, ay], [ax + 60, ay + 5]] },
                  style: { fill: arrowColor } });
  graphics.push({ type: 'line', z: 50, silent: true, shape: { x1: ax, y1: ay - 1.5, x2: ax, y2: ay + 52 },
                  style: { stroke: arrowColor, lineWidth: 3 } });
  graphics.push({ type: 'polygon', z: 50, silent: true,
                  shape: { points: [[ax - 5, ay + 50], [ax, ay + 59], [ax + 5, ay + 50]] },
                  style: { fill: arrowColor } });
  graphics.push(txt(ax + 72, ay, phi1Text, arrowFont, '#1a1a1a'));
  graphics.push(txt(tx, ty + 367, bigPhiText, arrowFont, '#1a1a1a'));
});

const chart = echarts.init(document.getElementById('chart'), null, { renderer: 'canvas' });
chart.setOption({
  animation: false,
  backgroundColor: '#ffffff',
  grid: grids,
  xAxis: xAxes,
  yAxis: yAxes,
  series: series,
  graphic: { elements: graphics }
});
</script>
</body>
</html>
